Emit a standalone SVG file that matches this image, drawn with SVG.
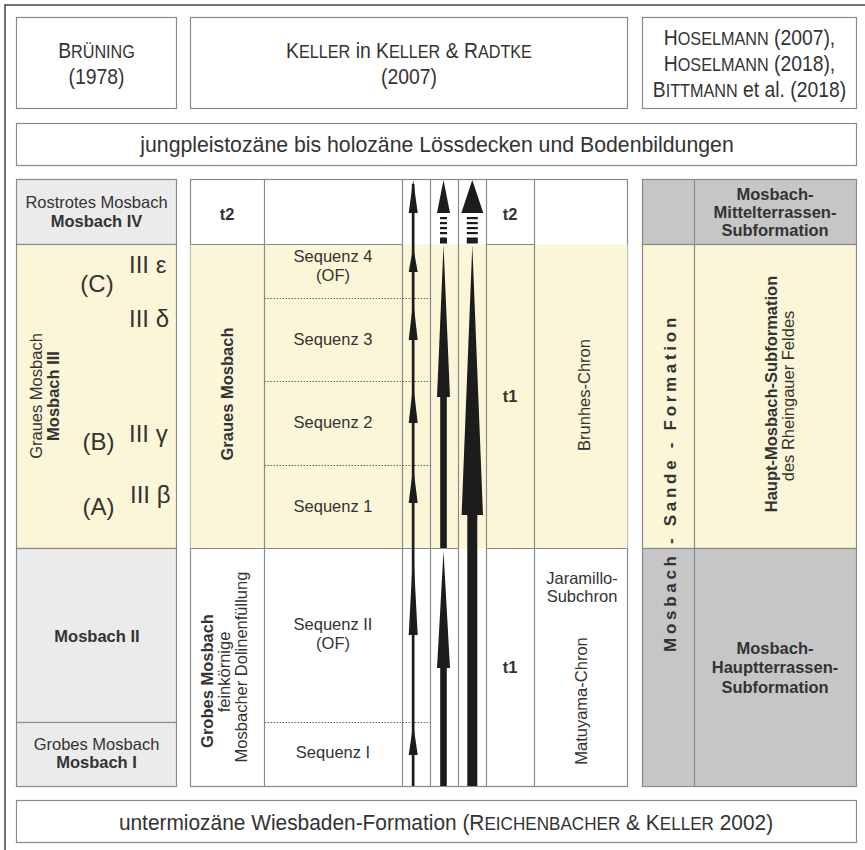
<svg xmlns="http://www.w3.org/2000/svg" width="865" height="850" viewBox="0 0 865 850">
<style>
.bx{fill:#fff;stroke:#8a8a8a;stroke-width:1.2}
.lg{fill:#ebebeb;stroke:#8a8a8a;stroke-width:1.2}
.ye{fill:#fcf6d8;stroke:#8a8a8a;stroke-width:1.2}
.dg{fill:#c6c6c6;stroke:#8a8a8a;stroke-width:1.2}
.ln{stroke:#8a8a8a;stroke-width:1.2;fill:none}
.dot{stroke:#666;stroke-width:1;stroke-dasharray:1.5 1.5;fill:none}
.arr{fill:#1c1c1c}
text{font-family:"Liberation Sans",Arial,sans-serif;fill:#333;font-size:16.5px}
.c{text-anchor:middle}
.b{font-weight:bold}
.h{font-size:21.5px}
.sc{font-size:18px}
.g{font-size:24px}
</style>
<rect width="865" height="850" fill="#fff"/>
<path d="M5,850 V5 H865" fill="none" stroke="#444" stroke-width="1.5"/>

<g id="hdr-bruening">
<rect class="bx" x="16.5" y="17.5" width="160" height="91"/>
<text class="h c" transform="translate(96.5,58) scale(0.9,1)">B<tspan class="sc">RÜNING</tspan></text>
<text class="h c" transform="translate(96.5,84) scale(0.9,1)">(1978)</text>
</g>
<g id="hdr-keller">
<rect class="bx" x="190.5" y="17.5" width="437" height="91"/>
<text class="h c" transform="translate(409,58) scale(0.9,1)">K<tspan class="sc">ELLER</tspan> in K<tspan class="sc">ELLER</tspan> &amp; R<tspan class="sc">ADTKE</tspan></text>
<text class="h c" transform="translate(409,84) scale(0.9,1)">(2007)</text>
</g>
<g id="hdr-hoselmann">
<rect class="bx" x="642.5" y="17.5" width="214" height="91"/>
<text class="h c" transform="translate(749.5,45) scale(0.9,1)">H<tspan class="sc">OSELMANN</tspan> (2007),</text>
<text class="h c" transform="translate(749.5,71) scale(0.9,1)">H<tspan class="sc">OSELMANN</tspan> (2018),</text>
<text class="h c" transform="translate(749.5,97) scale(0.9,1)">B<tspan class="sc">ITTMANN</tspan> et al. (2018)</text>
</g>
<g id="loess">
<rect class="bx" x="16.5" y="123.5" width="840" height="42"/>
<text class="c" transform="translate(437,152) scale(0.95,1)" style="font-size:22.4px">jungpleistozäne bis holozäne Lössdecken und Bodenbildungen</text>
</g>

<g id="col-bruening">
<rect class="lg" x="16.5" y="179.5" width="160" height="65"/>
<rect class="ye" x="16.5" y="244.5" width="160" height="304"/>
<rect class="lg" x="16.5" y="548.5" width="160" height="174"/>
<rect class="lg" x="16.5" y="722.5" width="160" height="64"/>
<text class="c" x="96.5" y="208">Rostrotes Mosbach</text>
<text class="c b" x="96.5" y="227">Mosbach IV</text>
<text class="g" x="129" y="273">III ε</text>
<text class="g c" x="97" y="292">(C)</text>
<text class="g" x="129" y="327">III δ</text>
<text class="g" x="129" y="442">III γ</text>
<text class="g c" x="98.5" y="450">(B)</text>
<text class="g" x="130" y="503">III β</text>
<text class="g c" x="98.5" y="515">(A)</text>
<text class="c" transform="translate(42,396) rotate(-90)">Graues Mosbach</text>
<text class="c b" transform="translate(58.5,396) rotate(-90)">Mosbach III</text>
<text class="c b" x="97" y="642">Mosbach II</text>
<text class="c" x="96.5" y="750">Grobes Mosbach</text>
<text class="c b" x="96.5" y="768">Mosbach I</text>
</g>

<g id="col-keller">
<rect class="bx" x="190.5" y="179.5" width="437" height="607"/>
<rect x="190.5" y="244.5" width="437" height="304" fill="#fcf6d8"/>
<path class="ln" d="M264.5,179.5V786.5M402.5,179.5V786.5M430.5,179.5V786.5M458.5,179.5V786.5M486.5,179.5V786.5M534.5,179.5V786.5"/>
<path class="ln" d="M190.5,244.5H402.5M486.5,244.5H534.5M190.5,548.5H458.5M486.5,548.5H627.5"/>
<path class="dot" d="M264.5,298.5H430.5M264.5,381.5H430.5M264.5,465.5H430.5M264.5,722.5H430.5"/>
<text class="c b" x="227" y="220">t2</text>
<text class="c b" transform="translate(233,394) rotate(-90)">Graues Mosbach</text>
<text class="c b" transform="translate(213,681) rotate(-90)">Grobes Mosbach</text>
<text class="c" transform="translate(229.5,672) rotate(-90)">feinkörnige</text>
<text class="c" transform="translate(247,667) rotate(-90)">Mosbacher Dolinenfüllung</text>
<text class="c" x="333" y="262">Sequenz 4</text>
<text class="c" x="333" y="281">(OF)</text>
<text class="c" x="333" y="345">Sequenz 3</text>
<text class="c" x="333" y="428">Sequenz 2</text>
<text class="c" x="333" y="512">Sequenz 1</text>
<text class="c" x="333" y="630">Sequenz II</text>
<text class="c" x="333" y="649">(OF)</text>
<text class="c" x="333" y="758">Sequenz I</text>
<text class="c b" x="510" y="220">t2</text>
<text class="c b" x="510" y="402">t1</text>
<text class="c b" x="510" y="673">t1</text>
<text class="c" transform="translate(590,395) rotate(-90)">Brunhes-Chron</text>
<text class="c" x="582" y="584">Jaramillo-</text>
<text class="c" x="582" y="602">Subchron</text>
<text class="c" transform="translate(587,701) rotate(-90)">Matuyama-Chron</text>
</g>

<g id="arrows">
<rect class="arr" x="411.8" y="184" width="2.7" height="602"/>
<polygon class="arr" points="413.2,180 408.7,213 417.7,213"/>
<polygon class="arr" points="413.2,247 408.7,272 417.7,272"/>
<polygon class="arr" points="413.2,301 408.7,340 417.7,340"/>
<polygon class="arr" points="413.2,384 408.7,423 417.7,423"/>
<polygon class="arr" points="413.2,467 408.7,503 417.7,503"/>
<polygon class="arr" points="413.2,550 408.7,635 417.7,635"/>
<polygon class="arr" points="413.2,724 408.7,755 417.7,755"/>
<polygon class="arr" points="443.5,180 437,213 450,213"/>
<rect class="arr" x="440" y="217" width="7" height="2.2"/>
<rect class="arr" x="440" y="222" width="7" height="2.2"/>
<rect class="arr" x="440" y="227" width="7" height="2.2"/>
<rect class="arr" x="440" y="232" width="7" height="2.2"/>
<rect class="arr" x="440" y="237.5" width="7" height="6"/>
<path class="arr" d="M443.5,245 L450,397 L446.8,397 L446.8,548 L440.2,548 L440.2,397 L437,397 Z"/>
<path class="arr" d="M443.5,551 L450,668 L446.8,668 L446.8,786 L440.2,786 L440.2,668 L437,668 Z"/>
<polygon class="arr" points="472.3,180 461.3,213 483.3,213"/>
<rect class="arr" x="466.8" y="217" width="11" height="2.2"/>
<rect class="arr" x="466.8" y="222" width="11" height="2.2"/>
<rect class="arr" x="466.8" y="227" width="11" height="2.2"/>
<rect class="arr" x="466.8" y="232" width="11" height="2.2"/>
<rect class="arr" x="466.8" y="237.5" width="11" height="6"/>
<path class="arr" d="M472.3,245 L483,515 L477.3,515 L477.3,786 L467.3,786 L467.3,515 L461.6,515 Z"/>
</g>

<g id="col-hoselmann">
<rect class="dg" x="642.5" y="179.5" width="214" height="65"/>
<rect class="ye" x="642.5" y="244.5" width="214" height="304"/>
<rect class="dg" x="642.5" y="548.5" width="214" height="238"/>
<path class="ln" d="M694.5,179.5V786.5"/>
<text class="c b" x="775" y="200">Mosbach-</text>
<text class="c b" x="775" y="218">Mittelterrassen-</text>
<text class="c b" x="775" y="236">Subformation</text>
<text class="c b" transform="translate(777,394) rotate(-90)">Haupt-Mosbach-Subformation</text>
<text class="c" transform="translate(794,396) rotate(-90)">des Rheingauer Feldes</text>
<text class="c b" transform="translate(676,483) rotate(-90)" style="letter-spacing:3.7px;font-size:17px">Mosbach - Sande - Formation</text>
<text class="c b" x="775" y="654">Mosbach-</text>
<text class="c b" x="775" y="673">Hauptterrassen-</text>
<text class="c b" x="775" y="693">Subformation</text>
</g>

<g id="wiesbaden">
<rect class="bx" x="16.5" y="800.5" width="840" height="42"/>
<text class="c" transform="translate(446,830) scale(0.95,1)" style="font-size:22px">untermiozäne Wiesbaden-Formation (R<tspan style="font-size:18px">EICHENBACHER</tspan> &amp; K<tspan style="font-size:18px">ELLER</tspan> 2002)</text>
</g>
</svg>
